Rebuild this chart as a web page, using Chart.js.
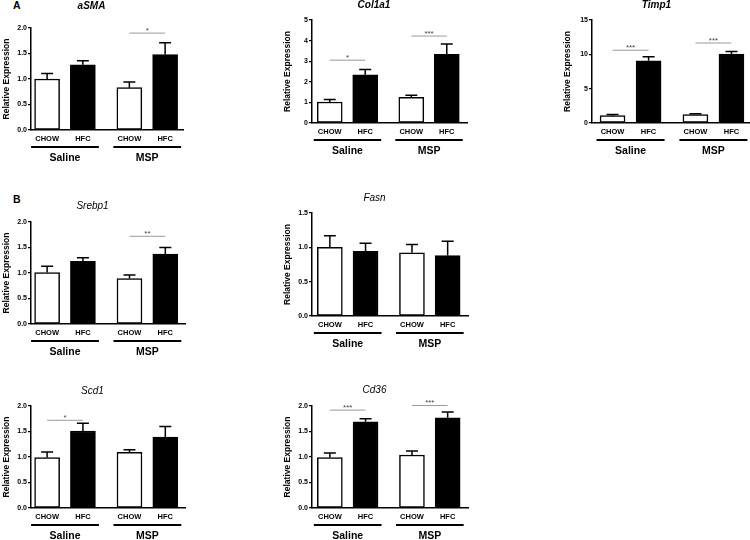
<!DOCTYPE html>
<html>
<head>
<meta charset="utf-8">
<script src="https://cdn.jsdelivr.net/npm/chart.js@4.4.0/dist/chart.umd.min.js"></script>
<style>
  html, body { margin: 0; padding: 0; background: #fff; }
  #fig { position: relative; width: 750px; height: 540px; overflow: hidden; }
  #fig canvas { position: absolute; }
  .letra { position: absolute; font: bold 10.5px 'Liberation Sans', Arial, sans-serif; color: #000; }
</style>
</head>
<body>
<div id="fig">
  <div class="letra" style="left:13px; top:-1px">A</div>
  <div class="letra" style="left:13px; top:193px">B</div>
</div>
<script>
// categorias comuns a todos os gráficos
var categorias = ['CHOW', 'HFC', 'CHOW', 'HFC'];
var grupos = ['Saline', 'MSP'];
var posicoes = [1, 2, 3.3, 4.3];

// valores (média e erro)
var asmaMedia = [1.00, 1.28, 0.83, 1.48];
var asmaErro = [0.11, 0.08, 0.11, 0.23];
var asmaSig = [[2, 3, 1.90, '*']];

var col1a1Media = [1.02, 2.34, 1.25, 3.33];
var col1a1Erro = [0.12, 0.26, 0.10, 0.50];
var col1a1Sig = [[0, 1, 3.05, '*'], [2, 3, 4.22, '***']];

var timp1Media = [1.07, 9.06, 1.22, 10.03];
var timp1Erro = [0.15, 0.58, 0.14, 0.39];
var timp1Sig = [[0, 1, 10.6, '***'], [2, 3, 11.65, '***']];

var srebp1Media = [1.01, 1.23, 0.89, 1.37];
var srebp1Erro = [0.12, 0.07, 0.07, 0.13];
var srebp1Sig = [[2, 3, 1.72, '**']];

var fasnMedia = [1.00, 0.94, 0.92, 0.88];
var fasnErro = [0.17, 0.12, 0.12, 0.21];
var fasnSig = [];

var scd1Media = [0.99, 1.51, 1.09, 1.39];
var scd1Erro = [0.11, 0.15, 0.05, 0.21];
var scd1Sig = [[0, 1, 1.72, '*']];

var cd36Media = [0.99, 1.69, 1.04, 1.77];
var cd36Erro = [0.09, 0.06, 0.08, 0.11];
var cd36Sig = [[0, 1, 1.92, '***'], [2, 3, 2.01, '***']];

var fonte = "'Liberation Sans', Arial, sans-serif";
Chart.defaults.font.family = fonte;
Chart.defaults.color = '#000';

/*
 * Plugin que desenha as barras de erro, as linhas de significância
 * e as linhas/nomes dos grupos por baixo do eixo x.
 */
var extras = {
    id: 'extras',
    afterDatasetsDraw: function (chart) {
        var p = chart.options.plugins.extras;
        var ctx = chart.ctx;
        var ys = chart.scales.y;
        var barras = chart.getDatasetMeta(0).data;
        ctx.save();
        ctx.strokeStyle = '#000';
        ctx.lineWidth = 1.5;
        barras.forEach(function (b, i) {
            var topo = ys.getPixelForValue(p.media[i] + p.erro[i]);
            ctx.beginPath();
            ctx.moveTo(b.x, b.y);
            ctx.lineTo(b.x, topo);
            ctx.moveTo(b.x - 6, topo);
            ctx.lineTo(b.x + 6, topo);
            ctx.stroke();
        });

        // significância
        ctx.lineWidth = 1;
        ctx.textAlign = 'center';
        ctx.textBaseline = 'alphabetic';
        ctx.font = '8px ' + fonte;
        for (let s of p.sig) {
            var y = ys.getPixelForValue(s[2]);
            ctx.strokeStyle = '#9a9a9a';
            ctx.beginPath();
            ctx.moveTo(barras[s[0]].x, y);
            ctx.lineTo(barras[s[1]].x, y);
            ctx.stroke();
            ctx.fillStyle = '#444';
            ctx.fillText(s[3], (barras[s[0]].x + barras[s[1]].x) / 2, y);
        }

        // grupos
        var base = chart.chartArea.bottom;
        ctx.strokeStyle = '#000';
        ctx.fillStyle = '#000';
        ctx.lineWidth = 2;
        ctx.textBaseline = 'middle';
        ctx.font = 'bold 10.5px ' + fonte;
        grupos.forEach(function (g, k) {
            var a = barras[2 * k].x, c = barras[2 * k + 1].x;
            ctx.beginPath();
            ctx.moveTo(a - 16, base + 17);
            ctx.lineTo(c + 16, base + 17);
            ctx.stroke();
            ctx.fillText(g, (a + c) / 2, base + 28);
        });
        ctx.restore();
    }
};

var paineis = [
    {titulo: 'aSMA', negrito: true, area: [31, 28, 183, 130], tituloY: 6, larg: 207, xMin: 0.55, xMax: 4.8, yMax: 2, passo: 0.5, dec: 1, media: asmaMedia, erro: asmaErro, sig: asmaSig},
    {titulo: 'Col1a1', negrito: true, area: [312, 20, 467, 123], tituloY: 5.5, larg: 217, xMin: 0.5, xMax: 4.87, yMax: 5, passo: 1, dec: 0, media: col1a1Media, erro: col1a1Erro, sig: col1a1Sig},
    {titulo: 'Timp1', negrito: true, area: [592, 20, 752, 123], tituloY: 5.5, larg: 221, xMin: 0.43, xMax: 4.87, yMax: 15, passo: 5, dec: 0, media: timp1Media, erro: timp1Erro, sig: timp1Sig},
    {titulo: 'Srebp1', negrito: false, area: [31, 222, 185, 324], tituloY: 206, larg: 210, xMin: 0.55, xMax: 4.85, yMax: 2, passo: 0.5, dec: 1, media: srebp1Media, erro: srebp1Erro, sig: srebp1Sig},
    {titulo: 'Fasn', negrito: false, area: [312, 213, 468, 316], tituloY: 198, larg: 218, xMin: 0.5, xMax: 4.87, yMax: 1.5, passo: 0.5, dec: 1, media: fasnMedia, erro: fasnErro, sig: fasnSig},
    {titulo: 'Scd1', negrito: false, area: [31, 406, 185, 508], tituloY: 391, larg: 215, xMin: 0.55, xMax: 4.85, yMax: 2, passo: 0.5, dec: 1, media: scd1Media, erro: scd1Erro, sig: scd1Sig},
    {titulo: 'Cd36', negrito: false, area: [312, 406, 468, 508], tituloY: 390, larg: 218, xMin: 0.5, xMax: 4.87, yMax: 2, passo: 0.5, dec: 1, media: cd36Media, erro: cd36Erro, sig: cd36Sig}
];

var fig = document.getElementById('fig');

for (let p of paineis) {
    var esq = p.area[0] - 31;
    var topo = p.area[1] - 30;
    var alt = 30 + (p.area[3] - p.area[1]) + 40;
    var cv = document.createElement('canvas');
    cv.width = p.larg;
    cv.height = alt;
    cv.style.left = esq + 'px';
    cv.style.top = topo + 'px';
    fig.appendChild(cv);

    var pt = p.tituloY - topo - 6;

    new Chart(cv, {
        type: 'bar',
        data: {
            datasets: [{
                data: posicoes.map((x, i) => ({x: x, y: p.media[i]})),
                backgroundColor: ['#fff', '#000', '#fff', '#000'],
                borderColor: '#000',
                borderWidth: 1.5,
                borderSkipped: false,
                barThickness: 25
            }]
        },
        options: {
            responsive: false,
            animation: false,
            devicePixelRatio: 1,
            layout: {padding: {left: 0, top: 0, bottom: 0, right: esq + p.larg - p.area[2]}},
            plugins: {
                legend: {display: false},
                tooltip: {enabled: false},
                title: {
                    display: true,
                    text: p.titulo,
                    color: '#000',
                    font: {size: 10, style: 'italic', weight: p.negrito ? 'bold' : 'normal', lineHeight: 1.2},
                    padding: {top: pt, bottom: 30 - pt - 12}
                },
                extras: {media: p.media, erro: p.erro, sig: p.sig}
            },
            scales: {
                x: {
                    type: 'linear',
                    bounds: 'data',
                    min: p.xMin,
                    max: p.xMax,
                    offset: false,
                    grid: {display: false, drawTicks: false, offset: false},
                    border: {display: true, color: '#000', width: 1.5},
                    afterBuildTicks: function (sc) {
                        sc.ticks = posicoes.map(v => ({value: v}));
                    },
                    afterFit: function (sc) { sc.height = 40; },
                    ticks: {
                        autoSkip: false,
                        maxRotation: 0,
                        padding: 4,
                        color: '#000',
                        font: {size: 7.5, weight: 'bold'},
                        callback: function (v, i) { return categorias[i]; }
                    }
                },
                y: {
                    min: 0,
                    max: p.yMax,
                    grid: {display: true, drawOnChartArea: false, drawTicks: true, tickLength: 3, color: '#000', lineWidth: 1.2},
                    border: {display: true, color: '#000', width: 1.5},
                    afterFit: function (sc) { sc.width = 31; },
                    title: {
                        display: true,
                        text: 'Relative Expression',
                        color: '#000',
                        font: {size: 8.5, weight: 'bold'},
                        padding: {top: 1.5, bottom: 0}
                    },
                    ticks: {
                        stepSize: p.passo,
                        padding: 1,
                        color: '#000',
                        font: {size: 7, weight: 'bold'},
                        callback: function (v) { return v.toFixed(p.dec); }
                    }
                }
            }
        },
        plugins: [extras]
    });
}
</script>
</body>
</html>
